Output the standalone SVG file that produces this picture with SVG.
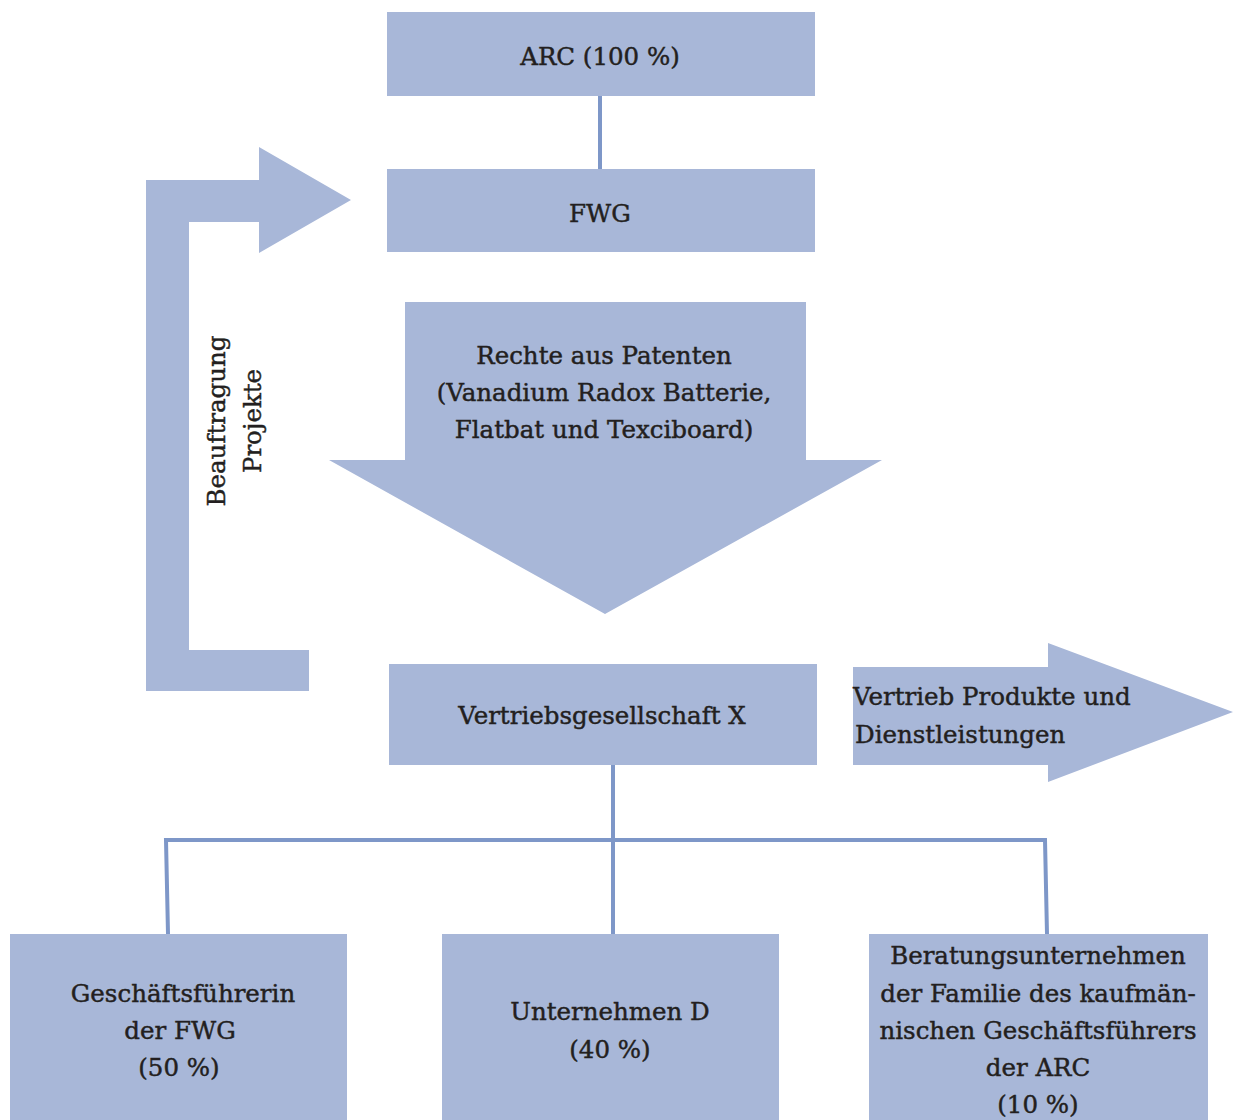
<svg xmlns="http://www.w3.org/2000/svg" width="1233" height="1120" viewBox="0 0 1233 1120">
  <style>
    .box { fill: #a8b7d8; }
    .lbl { font-family: "DejaVu Serif", "Liberation Serif", serif; font-size: 24.5px; fill: #231f20; stroke: #231f20; stroke-width: 0.45; text-anchor: middle; }
    .left { text-anchor: start; }
    .conn { stroke: #7e97c8; stroke-width: 4; fill: none; }
  </style>
  <rect width="1233" height="1120" fill="#ffffff"/>

  <!-- connectors -->
  <g id="connectors">
    <line class="conn" x1="600" y1="96" x2="600" y2="169"/>
    <line class="conn" x1="613" y1="765" x2="613" y2="934"/>
    <polyline class="conn" points="168,934 166,840 1045,840 1047,934"/>
  </g>

  <g id="node-arc">
    <rect class="box" x="387" y="12" width="428" height="84"/>
    <text class="lbl" x="600" y="65">ARC (100 %)</text>
  </g>

  <g id="node-fwg">
    <rect class="box" x="387" y="169" width="428" height="83"/>
    <text class="lbl" x="600" y="222">FWG</text>
  </g>

  <!-- bracket arrow: commissioning of projects -->
  <g id="arrow-beauftragung">
    <polygon class="box" points="146,180 259,180 259,147 351,200 259,253 259,222 189,222 189,650 309,650 309,691 146,691"/>
    <text class="lbl" transform="translate(225,421) rotate(-90)">Beauftragung</text>
    <text class="lbl" transform="translate(261,421) rotate(-90)">Projekte</text>
  </g>

  <!-- down arrow: patent rights -->
  <g id="arrow-patente">
    <polygon class="box" points="405,302 806,302 806,460 882,460 605,614 329,460 405,460"/>
    <text class="lbl" x="604" y="364">Rechte aus Patenten</text>
    <text class="lbl" x="604" y="401">(Vanadium Radox Batterie,</text>
    <text class="lbl" x="604" y="438">Flatbat und Texciboard)</text>
  </g>

  <g id="node-vertrieb">
    <rect class="box" x="389" y="664" width="428" height="101"/>
    <text class="lbl" x="602" y="724">Vertriebsgesellschaft X</text>
  </g>

  <!-- right arrow: sales -->
  <g id="arrow-vertrieb">
    <polygon class="box" points="853,667 1048,667 1048,643 1233,712 1048,782 1048,765 853,765"/>
    <text class="lbl left" x="853" y="705">Vertrieb Produkte und</text>
    <text class="lbl left" x="855" y="743">Dienstleistungen</text>
  </g>

  <g id="node-gf">
    <rect class="box" x="10" y="934" width="337" height="186"/>
    <text class="lbl" x="183" y="1002">Geschäftsführerin</text>
    <text class="lbl" x="180" y="1039">der FWG</text>
    <text class="lbl" x="179" y="1076">(50 %)</text>
  </g>

  <g id="node-d">
    <rect class="box" x="442" y="934" width="337" height="186"/>
    <text class="lbl" x="610" y="1020">Unternehmen D</text>
    <text class="lbl" x="610" y="1058">(40 %)</text>
  </g>

  <g id="node-beratung">
    <rect class="box" x="869" y="934" width="339" height="186"/>
    <text class="lbl" x="1038" y="964">Beratungsunternehmen</text>
    <text class="lbl" x="1038" y="1002">der Familie des kaufmän-</text>
    <text class="lbl" x="1038" y="1039">nischen Geschäftsführers</text>
    <text class="lbl" x="1038" y="1076">der ARC</text>
    <text class="lbl" x="1038" y="1113">(10 %)</text>
  </g>
</svg>
